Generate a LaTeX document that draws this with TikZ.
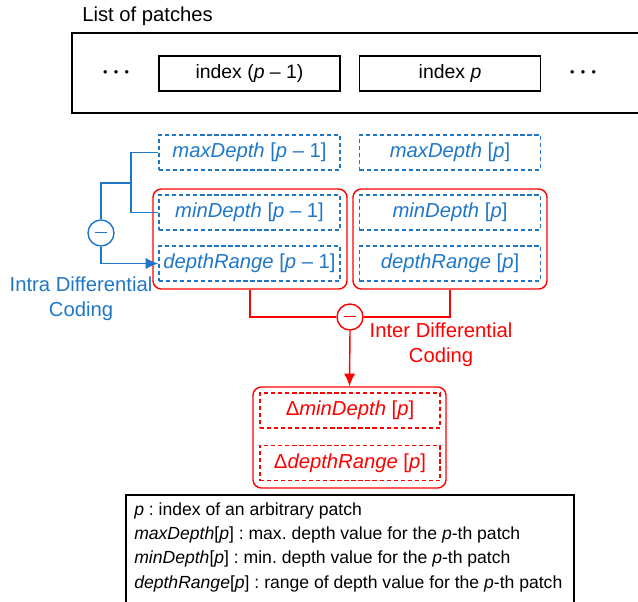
\documentclass[tikz,border=0pt]{standalone}
\usepackage{fontspec}
\setmainfont{Liberation Sans}
\usetikzlibrary{arrows.meta}
\definecolor{intrablue}{RGB}{31,119,199}
\definecolor{interred}{RGB}{255,0,0}
\frenchspacing

\begin{document}
\begin{tikzpicture}[x=0.025cm, y=-0.025cm,
  font=\fontsize{14.4}{16}\selectfont,
  patch/.style={draw, line width=0.8pt, minimum width=4.525cm, minimum height=0.875cm, inner sep=0pt,
    font=\fontsize{13.8}{16}\selectfont},
  field/.style={draw=intrablue, text=intrablue, line width=0.9pt, dash pattern=on 3pt off 2pt,
    minimum width=4.525cm, minimum height=0.875cm, inner sep=0pt},
  group/.style={draw=interred, line width=1pt, rounded corners=6pt, minimum width=4.85cm, minimum height=2.5cm, inner sep=0pt},
  delta/.style={draw=interred, text=interred, line width=0.9pt, dash pattern=on 3pt off 2pt,
    minimum width=4.5cm, minimum height=0.875cm, inner sep=0pt},
  minus/.style={circle, draw, line width=1pt, minimum size=0.65cm, inner sep=0pt, fill=white},
  >={Latex[length=9pt, width=8pt]}]
  \useasboundingbox (0,0) rectangle (638,602);

  % list of patches
  \node[anchor=west, inner sep=0pt] (title) at (82,16) {List of patches};
  \draw[line width=0.8pt] (72,33) rectangle (660,113);
  \node (dotsl) at (116,74) {\fontsize{9}{9}\selectfont •\hspace{4.5pt}•\hspace{4.5pt}•};
  \node[patch] (idxprev) at (249.5,73.5) {index (\textit{p} – 1)};
  \node[patch] (idxcur) at (450,73.5) {index \textit{p}};
  \node (dotsr) at (583,74) {\fontsize{9}{9}\selectfont •\hspace{4.5pt}•\hspace{4.5pt}•};

  % depth fields of both patches
  \node[group] (grpprev) at (250,239) {};
  \node[group] (grpcur) at (450,239) {};
  \node[field] (maxprev) at (249.5,152.5) {\textit{maxDepth} [\textit{p} – 1]};
  \node[field] (maxcur) at (450,152.5) {\textit{maxDepth} [\textit{p}]};
  \node[field] (minprev) at (249.5,212.5) {\textit{minDepth} [\textit{p} – 1]};
  \node[field] (mincur) at (450,212.5) {\textit{minDepth} [\textit{p}]};
  \node[field] (rngprev) at (249.5,263.5) {\textit{depthRange} [\textit{p} – 1]};
  \node[field] (rngcur) at (450,263.5) {\textit{depthRange} [\textit{p}]};

  % intra differential coding
  \node[minus, draw=intrablue, text=intrablue] (intra) at (101,233) {\rule[0.5pt]{9pt}{1pt}};
  \coordinate (split) at (131,183);
  \draw[intrablue, line width=1pt] (maxprev.west) -| (split) |- (minprev.west);
  \draw[intrablue, line width=1pt] (split) -| (intra.north);
  \draw[intrablue, line width=1pt, ->] (intra.south) |- (rngprev.west);
  \node[text=intrablue, align=center, font=\fontsize{14.4}{17.5}\selectfont] (intralbl) at (81,299) {Intra Differential\\Coding};

  % inter differential coding
  \node[minus, draw=interred, text=interred] (inter) at (350,317) {\rule[0.5pt]{9pt}{1pt}};
  \draw[interred, line width=1pt] (grpprev.south) |- (inter.west);
  \draw[interred, line width=1pt] (grpcur.south) |- (inter.east);
  \node[text=interred, align=center, font=\fontsize{14.4}{17.5}\selectfont] (interlbl) at (441,345) {Inter Differential\\Coding};

  \node[group, minimum width=4.825cm, minimum height=2.525cm] (result) at (349.5,437.5) {};
  \node[delta] (dmin) at (350,410.5) {Δ\textit{minDepth} [\textit{p}]};
  \node[delta] (drng) at (350,463) {Δ\textit{depthRange} [\textit{p}]};
  \draw[interred, line width=1pt, ->] (inter.south) -- (result.north);

  % legend
  \draw[line width=0.8pt] (126,495) rectangle (574,640);
  \node[anchor=north west, align=left, inner sep=0pt, font=\fontsize{12.5}{17.3}\selectfont] (legend) at (134,502)
    {\textit{p} : index of an arbitrary patch\\
     \textit{maxDepth}[\textit{p}] : max. depth value for the \textit{p}-th patch\\
     \textit{minDepth}[\textit{p}] : min. depth value for the \textit{p}-th patch\\
     \textit{depthRange}[\textit{p}] : range of depth value for the \textit{p}-th patch};
\end{tikzpicture}
\end{document}
